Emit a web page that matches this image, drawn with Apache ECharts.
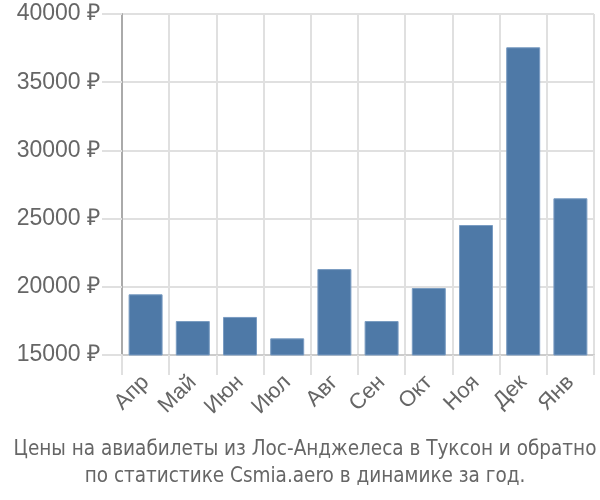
<!DOCTYPE html>
<html>
<head>
<meta charset="utf-8">
<script src="https://cdn.jsdelivr.net/npm/echarts@6/dist/echarts.min.js"></script>
<style>
  html, body { margin: 0; padding: 0; background: #fff; }
  #chart { width: 600px; height: 500px; }
</style>
</head>
<body>
<div id="chart"></div>
<script>
// months and average ticket price
const months = ['Апр', 'Май', 'Июн', 'Июл', 'Авг', 'Сен', 'Окт', 'Ноя', 'Дек', 'Янв'];
const prices = [19450, 17490, 17790, 16220, 21300, 17490, 19910, 24530, 37560, 26490];
const yMin = 15000, yMax = 40000, yStep = 5000;
const titleLines = [
    'Цены на авиабилеты из Лос-Анджелеса в Туксон и обратно',
    'по статистике Csmia.aero в динамике за год.'
];

const chart = echarts.init(document.getElementById('chart'));
chart.setOption({
    animation: false,
    title: {
        text: titleLines.join('\n'),
        left: 300, top: 431, textAlign: 'center',
        textStyle: {fontFamily: 'DejaVu Sans Condensed', fontSize: 20.5, fontWeight: 'normal', color: '#666', lineHeight: 27}
    },
    grid: {left: 122, right: 6, top: 14, bottom: 145},
    xAxis: {
        type: 'category', data: months,
        axisLine: {lineStyle: {color: '#ccc', width: 2}},
        axisTick: {show: true, length: 20, interval: 0, lineStyle: {color: '#e0e0e0', width: 2}},
        splitLine: {show: true, interval: 0, lineStyle: {color: '#e0e0e0', width: 2}},
        axisLabel: {rotate: 45, interval: 0, margin: 24, fontFamily: 'Liberation Sans', fontSize: 22, color: '#666'}
    },
    yAxis: {
        type: 'value', min: yMin, max: yMax, interval: yStep,
        axisLine: {show: true, lineStyle: {color: '#aaa', width: 2}},
        axisTick: {show: true, length: 20, lineStyle: {color: '#e0e0e0', width: 2}},
        splitLine: {lineStyle: {color: '#e0e0e0', width: 2}},
        axisLabel: {formatter: v => v + ' ₽', margin: 22, fontFamily: 'Liberation Sans', fontSize: 23, color: '#666'}
    },
    series: [{
        type: 'bar', data: prices, barCategoryGap: '28%',
        itemStyle: {color: '#4e79a7', borderColor: '#7a9cc2', borderWidth: 1}
    }]
});
</script>
</body>
</html>
